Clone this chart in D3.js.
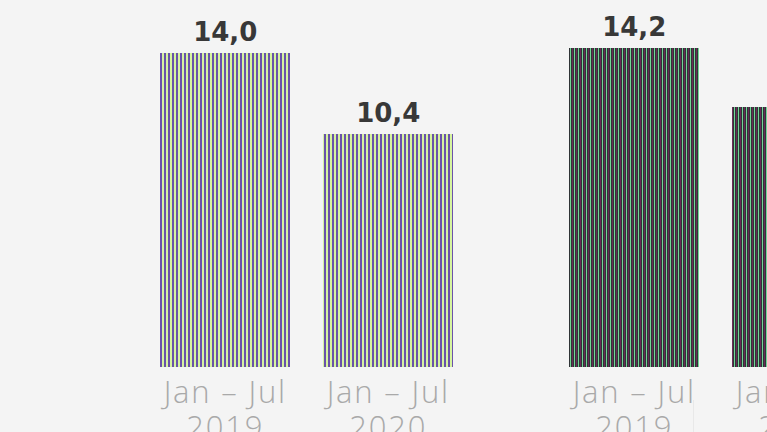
<!DOCTYPE html>
<html><head><meta charset="utf-8">
<script src="https://cdn.jsdelivr.net/npm/d3@7"></script>
<style>html,body{margin:0;padding:0;background:#f4f4f4;overflow:hidden}</style>
</head><body>
<svg id="c" width="767" height="432"></svg>
<script>
const groups = ["Group A", "Group B"];
const periods = ["Jan – Jul 2019", "Jan – Jul 2020"];
const periodLine1 = ["Jan – Jul", "Jan – Jul"];
const periodLine2 = ["2019", "2020"];
const valuesA = [14.0, 10.4];
const valuesB = [14.2, 11.6];

const svg = d3.select("#c");
svg.append("rect").attr("width",767).attr("height",432).attr("fill","#f4f4f4");

const defs = svg.append("defs");
const pA = defs.append("pattern").attr("id","pA").attr("patternUnits","userSpaceOnUse")
  .attr("width",4).attr("height",4);
pA.append("rect").attr("width",4).attr("height",4).attr("fill","#d6f4a0");
pA.append("rect").attr("x",0).attr("width",2).attr("height",4).attr("fill","#6a52aa");
const pB = defs.append("pattern").attr("id","pB").attr("patternUnits","userSpaceOnUse")
  .attr("width",4).attr("height",4);
pB.append("rect").attr("width",4).attr("height",4).attr("fill","#2f3436");
pB.append("rect").attr("x",0).attr("width",1).attr("height",4).attr("fill","#6a2a58");
pB.append("rect").attr("x",2).attr("width",1).attr("height",4).attr("fill","#72d496");

const x0 = d3.scaleBand().domain(groups).range([143.5, 878.5]).paddingInner(0.202).paddingOuter(0);
const x1 = d3.scaleBand().domain(periods).range([0, x0.bandwidth()]).paddingInner(0.2).paddingOuter(0.1);
const y = d3.scaleLinear().domain([0, 16]).range([367, 7.8]);

const data = [
  {g: groups[0], vals: valuesA, fill: "url(#pA)"},
  {g: groups[1], vals: valuesB, fill: "url(#pB)"}
];

svg.append("line").attr("x1",693.5).attr("x2",693.5).attr("y1",400).attr("y2",432)
  .attr("stroke","#e8e8e8").attr("stroke-width",1);

data.forEach(d => {
  const g = svg.append("g");
  d.vals.forEach((v, i) => {
    const xp = Math.round(x0(d.g) + x1(periods[i]));
    const cx = xp + x1.bandwidth()/2;
    g.append("rect").attr("x", xp).attr("y", Math.round(y(v))).attr("width", Math.round(x1.bandwidth()))
      .attr("height", y(0) - Math.round(y(v))).attr("fill", d.fill);
    g.append("text").attr("x", cx).attr("y", y(v) - 12)
      .attr("text-anchor","middle").attr("font-family","DejaVu Sans").attr("font-weight","bold")
      .attr("font-size", 26).attr("fill","#383838").text(v.toFixed(1).replace(".", ","));
    const t = g.append("text").attr("x", cx).attr("y", 403)
      .attr("text-anchor","middle").attr("font-family","Open Sans").attr("font-weight","300")
      .attr("font-size", 31).attr("letter-spacing", 1.8).attr("fill","#a9a9a9");
    t.append("tspan").attr("x", cx).text(periodLine1[i]);
    t.append("tspan").attr("x", cx).attr("dy", 35).text(periodLine2[i]);
  });
});
</script>
</body></html>
